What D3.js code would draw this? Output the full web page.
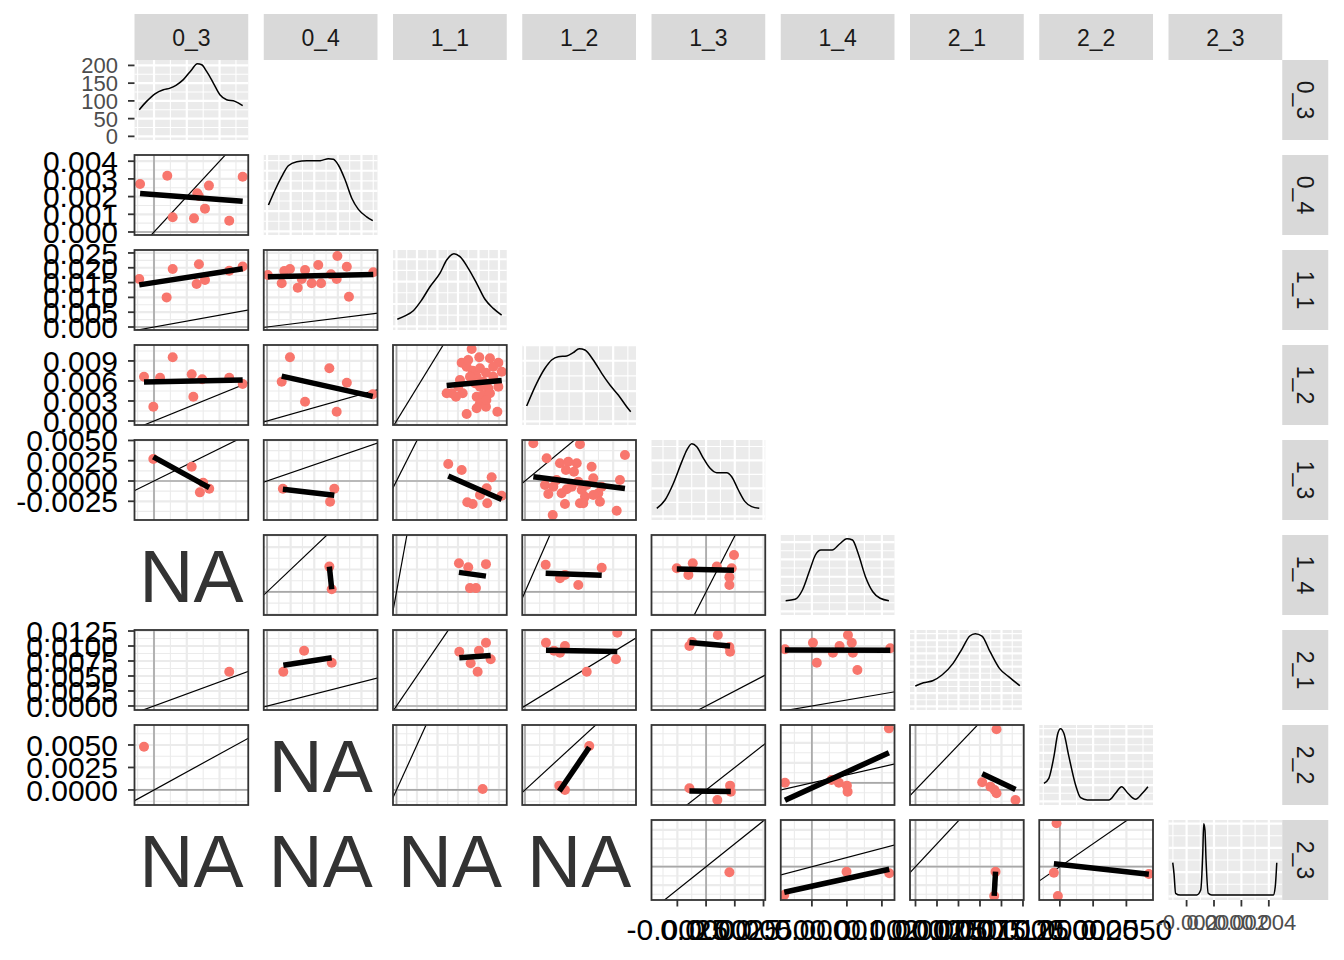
<!DOCTYPE html>
<html><head><meta charset="utf-8">
<script src="https://cdn.jsdelivr.net/npm/d3@7"></script>
<style>
body{margin:0;background:#fff}
text{font-family:"Liberation Sans",Arial,sans-serif}
</style></head><body>
<svg id="chart" width="1344" height="960"></svg>
<script>
// ---------------- data ----------------
const vars = ["0_3","0_4","1_1","1_2","1_3","1_4","2_1","2_2","2_3"];
const xDomains = [[-0.00119,0.00575],[-0.00014,0.00468],[-0.00085,0.0269],[-0.00028,0.01133],[-0.00475,0.00515],
                  [-0.00089,0.00236],[-0.00064,0.01259],[-0.00155,0.0070],[-0.00332,0.00498]];
const yDomains = [null,[-0.00017,0.00435],[-0.00101,0.0260],[-0.0006,0.01139],[-0.00481,0.00506],
                  [-0.00103,0.00254],[-0.00067,0.01267],[-0.00167,0.00722],[-0.00362,0.00508]];
const yDomainOverride = {"8-6":[-0.00278,0.00723]};
const xTicks = [[0,0.002,0.004],[0,0.001,0.002,0.003,0.004],[0,0.005,0.01,0.015,0.02,0.025],[0,0.003,0.006,0.009],
                [-0.0025,0,0.0025,0.005],[0,0.001,0.002],[0,0.0025,0.005,0.0075,0.01,0.0125],[0,0.0025,0.005],[-0.002,0,0.002,0.004]];
const yTicks = [[0,50,100,150,200],[0,0.001,0.002,0.003,0.004],[0,0.005,0.01,0.015,0.02,0.025],[0,0.003,0.006,0.009],
                [-0.0025,0,0.0025,0.005],[-0.001,0,0.001,0.002],[0,0.0025,0.005,0.0075,0.01,0.0125],[0,0.0025,0.005],[-0.002,0,0.002,0.004]];
const leftAxisRows = [1,2,3,4,5,7,8];
const bottomAxisCols = [5,6,7,8,9];
const naPanels = [[6,1],[8,2],[9,1],[9,2],[9,3],[9,4]];

// densities (diagonal)
const d0x=[-0.0009,-0.00045,0.00006,0.00057,0.00098,0.00134,0.00179,0.0023,0.00264,0.00291,0.00321,0.00362,0.00402,0.00443,0.00494,0.00541];
const d0y=[75,98.6,120,131.5,136,144,160,188,205,202,183,150.4,117.5,103.4,98.6,86.5];
const d1x=[0.00006,0.00034,0.00062,0.0009,0.00126,0.00168,0.00225,0.0026,0.00281,0.00302,0.00331,0.00359,0.00387,0.00422,0.00448];
const d1y=[130.5,204.8,270.7,325,344.9,350,350,360,356.8,328.5,254.2,163.8,109,72,53];
const d2x=[0.0002,0.00207,0.0041,0.00615,0.00817,0.01061,0.01224,0.01402,0.01549,0.01751,0.01956,0.02159,0.02361,0.02566];
const d2y=[6.3,9.3,14,23.6,35.4,47.5,59.3,65,62.3,51.9,38.5,24.2,16.1,10.1];
const d3x=[0.00017,0.00119,0.00204,0.00272,0.0034,0.00426,0.00493,0.00554,0.00612,0.00697,0.00783,0.00867,0.00952,0.01038,0.01079];
const d3y=[25.3,62.8,87.6,101.3,106.7,107.9,113.3,120,117.7,101.3,79.3,60,43.5,24.2,16];
const d4x=[-0.00429,-0.00357,-0.00284,-0.00211,-0.00168,-0.00124,-0.00081,-0.00023,0.00035,0.00093,0.0018,0.00223,0.00281,0.00339,0.00397,0.00463];
const d4y=[14.4,29.3,59.2,97.8,118.6,130,124.5,103.7,85.9,78,78,70.9,47.1,26.3,17.3,14.4];
const d5x=[-0.00075,-0.00048,-0.00027,-0.00006,0.0001,0.00026,0.00058,0.00079,0.001,0.00116,0.00132,0.00153,0.00174,0.00195,0.0022];
const d5y=[61.7,69.7,123.5,239,325.5,354.5,354.5,389,420,412,335.2,200.3,113.4,75.6,61.7];
const d6x=[-0.00002,0.00093,0.002,0.00308,0.00437,0.00545,0.00631,0.00695,0.00773,0.00867,0.00976,0.01083,0.01213];
const d6y=[30.8,35.8,38.8,47.4,65.1,87.8,106.4,110,106.4,82.7,57.5,44.9,31.2];
const d7x=[-0.0012,-0.00083,-0.00045,-0.00015,0.00005,0.0003,0.00068,0.00118,0.00156,0.00206,0.00368,0.00418,0.00464,0.00511,0.00569,0.0062,0.00662];
const d7y=[111.6,142.7,276.3,421.2,450,421.2,276.3,101.3,22.5,8.6,8.6,50,90.9,50,12.6,50,90.9];
const d8x=[-0.00301,-0.00292,-0.0028,-0.00248,-0.00126,-0.00097,-0.00082,-0.00075,-0.00066,-0.00058,-0.00042,-0.00017,0.00433,0.00447,0.00458];
const d8y=[694,475,63,28,28,131,888,1500,1369,750,63,28,28,200,694];
const densX=[d0x,d1x,d2x,d3x,d4x,d5x,d6x,d7x,d8x];
const densY=[d0y,d1y,d2y,d3y,d4y,d5y,d6y,d7y,d8y];

// scatter panels (row, col are 1-based)
const x21=[-0.00085,0.00081,0.00264,0.00273,0.00335,0.00311,0.00114,0.00244,0.00459,0.00541];
const y21=[0.00271,0.00318,0.00219,0.00203,0.00262,0.00132,0.00083,0.00077,0.00064,0.00312];
const x31=[-0.0009,0.00114,0.00077,0.00274,0.0026,0.00311,0.00459,0.00541];
const y31=[0.0162,0.0196,0.0100,0.0212,0.0145,0.0159,0.0190,0.0204];
const x41=[-0.00061,0.00037,0.00114,-0.00004,0.0023,0.00294,0.0024,0.00459,0.00541];
const y41=[0.00664,0.00649,0.00955,0.00214,0.0070,0.00625,0.00364,0.00649,0.00555];
const x51=[-0.00004,0.0023,0.0030,0.0028,0.00337];
const y51=[0.00272,0.00177,-0.00021,-0.0014,-0.00095];
const x71=[0.00459], y71=[0.00572];
const x81=[-0.00061], y81=[0.00481];
const x32=[0.00003,0.00062,0.00073,0.00097,0.0013,0.00147,0.00161,0.00189,0.00217,0.00229,0.00271,0.00295,0.00298,0.00338,0.00347,0.0045];
const y32=[0.01757,0.01476,0.01892,0.0196,0.01328,0.01622,0.01926,0.01476,0.02095,0.01476,0.0178,0.01622,0.02399,0.02037,0.01024,0.01848];
const x42=[0.00097,0.00062,0.00264,0.00338,0.00161,0.00295,0.00448];
const y42=[0.00955,0.00589,0.0079,0.00574,0.00289,0.00139,0.0040];
const x52=[0.00067,0.00285,0.00267], y52=[-0.00095,-0.00095,-0.00256];
const x62=[0.00264,0.00274], y62=[0.00113,0.00012];
const x72=[0.00069,0.00157,0.00274], y72=[0.00572,0.00922,0.00722];
const x43=[0.01834,0.0159,0.0202,0.0228,0.02485,0.02568,0.01712,0.01861,0.02037,0.02183,0.02361,0.01956,0.01549,0.02485,0.02241,0.02037,0.01346,0.01615,0.01451,0.01956,0.02117,0.0228,0.02037,0.01956,0.02183,0.01712,0.02461,0.01793,0.02117,0.01915,0.02361,0.01749,0.01224,0.01507,0.02193];
const y43=[0.01079,0.00874,0.00955,0.0094,0.00874,0.00739,0.00814,0.00754,0.0079,0.00724,0.00664,0.00664,0.00615,0.00514,0.0049,0.00514,0.00415,0.00415,0.00364,0.00364,0.0039,0.00415,0.00265,0.0019,0.00214,0.00105,0.00139,0.00664,0.00589,0.00565,0.00814,0.00915,0.00415,0.00514,0.00315];
const x53=[0.01263,0.0159,0.02322,0.022,0.02037,0.02566,0.01727,0.01859,0.02215];
const y53=[0.0021,0.00136,0.00046,-0.0009,-0.00173,-0.00181,-0.00263,-0.00284,-0.00275];
const x63=[0.01524,0.01751,0.02183,0.01793,0.01939], y63=[0.00128,0.0011,0.00124,0.00017,0.00017];
const x73=[0.01532,0.02012,0.02183,0.0181,0.0198,0.02298], y73=[0.00905,0.00922,0.01055,0.00712,0.00572,0.00778];
const x83=[0.02102], y83=[0.00011];
const x54=[0.00085,0.00561,0.0102,0.00221,0.00357,0.00442,0.00528,0.00418,0.005,0.0068,0.00204,0.00289,0.00238,0.00374,0.00426,0.00579,0.0063,0.00697,0.00748,0.00612,0.00697,0.00765,0.00561,0.00408,0.00283,0.00936,0.00969,0.00544,0.00477,0.00323,0.00783,0.00595];
const y54=[0.00465,0.00453,0.00321,0.0028,0.00219,0.00238,0.00219,0.00136,0.00115,0.00177,-0.00049,-0.0007,-0.0016,-0.00151,-0.00102,-0.00111,-0.00049,0.00033,-0.00151,-0.00194,-0.00173,-0.00255,-0.00275,-0.00284,-0.0042,-0.00367,0.00012,-0.00008,-0.0007,0.00012,-0.0007,-0.00275];
const x64=[0.00211,0.00357,0.00408,0.00544,0.00783], y64=[0.00121,0.00061,0.00076,0.00031,0.00108];
const x74=[0.00214,0.00296,0.00357,0.00408,0.00942,0.00929,0.0063], y74=[0.01055,0.00922,0.00888,0.0100,0.01222,0.00778,0.00572];
const x84=[0.0035,0.00408,0.00656], y84=[0.00048,0.0,0.00489];
const x65=[-0.00255,-0.00116,-0.00154,0.00093,0.00223,0.00243,0.00203,0.00203], y65=[0.00106,0.00128,0.00076,0.00113,0.00106,0.00165,0.00066,0.00031];
const x75=[-0.00145,-0.00122,0.00102,0.00209,0.00203], y75=[0.0100,0.01067,0.01183,0.00905,0.00983];
const x85=[-0.00145,0.00209,0.00215,0.00098], y85=[0.00019,0.00048,-0.00019,-0.00111];
const x95=[0.00203], y95=[-0.00061];
const x76=[-0.00077,0.00003,0.00014,0.0006,0.00079,0.00103,0.00114,0.00117,0.0013,0.00224], y76=[0.00945,0.01055,0.00722,0.00888,0.0100,0.01183,0.01055,0.00888,0.0060,0.00962];
const x86=[-0.00077,0.00056,0.00077,0.001,0.00102,0.0022], y86=[0.00001,0.00035,0.00001,-0.00036,-0.00111,0.00681];
const x96=[-0.00079,0.00099,0.00221], y96=[-0.00308,-0.00054,-0.00072];
const x87=[0.00776,0.00872,0.00919,0.00942,0.00942,0.01163], y87=[0.00086,0.00037,0.0,-0.00037,0.00674,-0.00111];
const x97=[0.00931,0.00915], y97=[-0.00054,-0.00318];
const x98=[-0.00025,-0.00045,-0.00015,0.00669], y98=[0.00472,-0.00065,-0.00318,-0.00079];

const scatter = [[2,1,x21,y21],[3,1,x31,y31],[4,1,x41,y41],[5,1,x51,y51],[7,1,x71,y71],[8,1,x81,y81],
  [3,2,x32,y32],[4,2,x42,y42],[5,2,x52,y52],[6,2,x62,y62],[7,2,x72,y72],
  [4,3,x43,y43],[5,3,x53,y53],[6,3,x63,y63],[7,3,x73,y73],[8,3,x83,y83],
  [5,4,x54,y54],[6,4,x64,y64],[7,4,x74,y74],[8,4,x84,y84],
  [6,5,x65,y65],[7,5,x75,y75],[8,5,x85,y85],[9,5,x95,y95],
  [7,6,x76,y76],[8,6,x86,y86],[9,6,x96,y96],
  [8,7,x87,y87],[9,7,x97,y97],[9,8,x98,y98]];

// ---------------- layout ----------------
const svg = d3.select("#chart");
const L0=134.5, PW=113.75, PX=129.25, T0=60, PH=80, PY=95;
const colX = c => L0 + c*PX;
const rowY = r => T0 + r*PY;
const defs = svg.append("defs");

function densDomain(i){ const M = d3.max(densY[i]); return [-0.05*M, 1.05*M]; }
function xScale(c){ return d3.scaleLinear().domain(xDomains[c]).range([colX(c), colX(c)+PW]); }
function yScale(r,c){
  const dom = r===c ? densDomain(r) : (yDomainOverride[(r+1)+"-"+(c+1)] || yDomains[r]);
  return d3.scaleLinear().domain(dom).range([rowY(r)+PH, rowY(r)]);
}
function gridVals(ticks, dom){
  const lo=Math.min(dom[0],dom[1]), hi=Math.max(dom[0],dom[1]);
  const step = ticks[1]-ticks[0];
  const major = ticks.filter(v=>v>=lo && v<=hi);
  const minor = [];
  for(let i=-1;i<ticks.length;i++){ const v=ticks[0]+step*(i+0.5); if(v>=lo && v<=hi) minor.push(v); }
  return {major, minor};
}
function drawGrid(g, x, y, xt, yt, color, wMaj, wMin){
  const gx = gridVals(xt, x.domain()), gy = gridVals(yt, y.domain());
  const [x0,x1]=x.range(), [y0,y1]=y.range();
  [[gx.minor,wMin],[gx.major,wMaj]].forEach(([vals,w])=>{
    g.selectAll(null).data(vals).enter().append("line")
      .attr("x1",d=>x(d)).attr("x2",d=>x(d)).attr("y1",y0).attr("y2",y1)
      .attr("stroke",color).attr("stroke-width",w);
  });
  [[gy.minor,wMin],[gy.major,wMaj]].forEach(([vals,w])=>{
    g.selectAll(null).data(vals).enter().append("line")
      .attr("y1",d=>y(d)).attr("y2",d=>y(d)).attr("x1",x0).attr("x2",x1)
      .attr("stroke",color).attr("stroke-width",w);
  });
}

// ---------------- diagonal densities ----------------
for(let i=0;i<9;i++){
  const x = xScale(i), y = yScale(i,i);
  const g = svg.append("g");
  g.append("rect").attr("x",colX(i)).attr("y",rowY(i)).attr("width",PW).attr("height",PH).attr("fill","#EBEBEB");
  const yt = i===0 ? yTicks[0] : y.ticks(4);
  drawGrid(g, x, y, xTicks[i], yt, "#FFFFFF", 2.2, 1.1);
  const line = d3.line().x((d,k)=>x(densX[i][k])).y(d=>y(d)).curve(d3.curveMonotoneX);
  g.append("path").attr("d", line(densY[i])).attr("fill","none").attr("stroke","#000").attr("stroke-width",1.5);
}

// ---------------- scatter panels ----------------
function fit(xs, ys){
  const mx=d3.mean(xs), my=d3.mean(ys);
  let sxy=0,sxx=0;
  xs.forEach((v,k)=>{ sxy+=(v-mx)*(ys[k]-my); sxx+=(v-mx)*(v-mx); });
  const b = sxy/sxx;
  const [lo,hi]=d3.extent(xs);
  return [[lo, my+b*(lo-mx)],[hi, my+b*(hi-mx)]];
}
scatter.forEach(([R,C,xs,ys],idx)=>{
  const r=R-1, c=C-1;
  const x = xScale(c), y = yScale(r,c);
  const id = "clip"+idx;
  defs.append("clipPath").attr("id",id).append("rect").attr("x",colX(c)).attr("y",rowY(r)).attr("width",PW).attr("height",PH);
  const g = svg.append("g").attr("clip-path","url(#"+id+")");
  g.append("rect").attr("x",colX(c)).attr("y",rowY(r)).attr("width",PW).attr("height",PH).attr("fill","#FFFFFF");
  drawGrid(g, x, y, xTicks[c], yTicks[r], "#EBEBEB", 2.2, 1.1);
  g.append("line").attr("x1",x(0)).attr("x2",x(0)).attr("y1",rowY(r)).attr("y2",rowY(r)+PH).attr("stroke","#A8A8A8").attr("stroke-width",1.7);
  g.append("line").attr("y1",y(0)).attr("y2",y(0)).attr("x1",colX(c)).attr("x2",colX(c)+PW).attr("stroke","#A8A8A8").attr("stroke-width",1.7);
  const lo = Math.min(x.domain()[0], y.domain()[0]), hi = Math.max(x.domain()[1], y.domain()[1]);
  g.append("line").attr("x1",x(lo)).attr("y1",y(lo)).attr("x2",x(hi)).attr("y2",y(hi)).attr("stroke","#000").attr("stroke-width",1.2);
  g.selectAll(null).data(xs).enter().append("circle")
    .attr("cx",d=>x(d)).attr("cy",(d,k)=>y(ys[k])).attr("r",5).attr("fill","#F8766D");
  if(xs.length>1){
    const f = fit(xs, ys);
    g.append("line").attr("x1",x(f[0][0])).attr("y1",y(f[0][1])).attr("x2",x(f[1][0])).attr("y2",y(f[1][1]))
      .attr("stroke","#000").attr("stroke-width",5.5);
  }
  svg.append("rect").attr("x",colX(c)).attr("y",rowY(r)).attr("width",PW).attr("height",PH)
    .attr("fill","none").attr("stroke","#333333").attr("stroke-width",1.8);
});

// ---------------- NA panels ----------------
naPanels.forEach(([R,C])=>{
  svg.append("text").attr("x",colX(C-1)+PW/2).attr("y",rowY(R-1)+PH/2+27)
    .attr("text-anchor","middle").attr("font-size",75).attr("fill","#333333").text("NA");
});

// ---------------- strips ----------------
vars.forEach((v,i)=>{
  svg.append("rect").attr("x",colX(i)).attr("y",14).attr("width",PW).attr("height",46).attr("fill","#D9D9D9");
  svg.append("text").attr("x",colX(i)+PW/2).attr("y",45.5).attr("text-anchor","middle")
    .attr("font-size",23).attr("fill","#1A1A1A").text(v);
  const sx = colX(8)+PW;
  svg.append("rect").attr("x",sx).attr("y",rowY(i)).attr("width",46).attr("height",PH).attr("fill","#D9D9D9");
  svg.append("text").attr("transform",`translate(${sx+23},${rowY(i)+PH/2}) rotate(90)`)
    .attr("text-anchor","middle").attr("dy","0.36em").attr("font-size",23).attr("fill","#1A1A1A").text(v);
});

// ---------------- axes ----------------
function fmt(ticks){
  let p = 0;
  while(p < 8 && !ticks.every(v => Math.abs(+v.toFixed(p) - v) < 1e-12)) p++;
  const f = d3.format("."+p+"f");
  return v => f(v).replace("\u2212","-");
}
leftAxisRows.forEach(R=>{
  const r=R-1;
  const y = yScale(r,0);
  const ticks = yTicks[r];
  const f = fmt(ticks);
  const grey = r===0;
  ticks.forEach(v=>{
    svg.append("line").attr("x1",colX(0)-6.5).attr("x2",colX(0)).attr("y1",y(v)).attr("y2",y(v))
      .attr("stroke","#333333").attr("stroke-width",1.8);
    svg.append("text").attr("x",colX(0)-16.5).attr("y",y(v)).attr("dy","0.36em").attr("text-anchor","end")
      .attr("font-size",grey?22:30).attr("fill",grey?"#4D4D4D":"#000000").text(f(v));
  });
});
bottomAxisCols.forEach(C=>{
  const c=C-1;
  const x = xScale(c);
  const ticks = xTicks[c];
  const f = fmt(ticks);
  const grey = c===8;
  const yb = rowY(8)+PH;
  ticks.forEach(v=>{
    svg.append("line").attr("x1",x(v)).attr("x2",x(v)).attr("y1",yb).attr("y2",yb+6.5)
      .attr("stroke","#333333").attr("stroke-width",1.8);
    svg.append("text").attr("x",x(v)).attr("y",grey?930:940).attr("text-anchor","middle")
      .attr("font-size",grey?22:30).attr("fill",grey?"#4D4D4D":"#000000").text(f(v));
  });
});
</script>
</body></html>
